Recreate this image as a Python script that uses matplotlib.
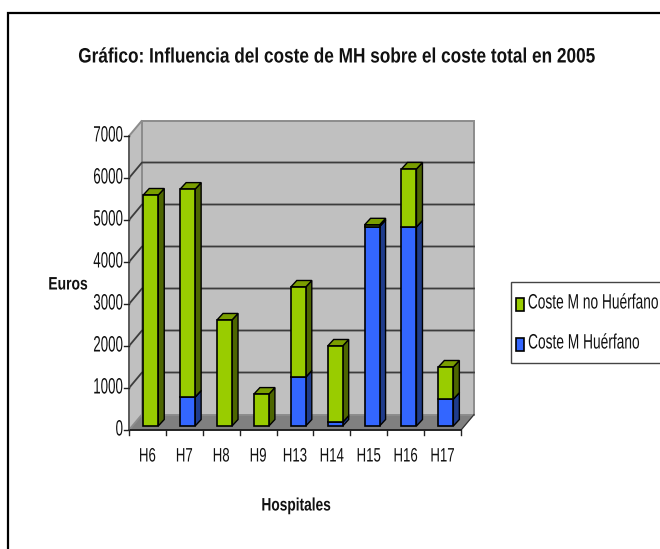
import matplotlib
matplotlib.use("Agg")
import matplotlib.pyplot as plt
import matplotlib.patheffects as pe
from matplotlib.patches import Polygon, Rectangle
from matplotlib.text import Text
from matplotlib.transforms import Affine2D, Bbox

categories = ["H6", "H7", "H8", "H9", "H13", "H14", "H15", "H16", "H17"]
coste_huerfano = [0, 690, 0, 0, 1165, 90, 4750, 4740, 640]
coste_no_huerfano = [5500, 4950, 2525, 760, 2145, 1815, 40, 1380, 765]
y_ticks = [0, 1000, 2000, 3000, 4000, 5000, 6000, 7000]

W, H = 660, 549
FONT = "Liberation Sans"
GREEN, GREEN_TOP, GREEN_SIDE = "#99CC00", "#7A9E00", "#4D6600"
BLUE, BLUE_TOP, BLUE_SIDE = "#3366FF", "#2A50C8", "#1F3C8C"


class Squeeze(pe.AbstractPathEffect):
    """Narrow the glyph outlines horizontally about the text's anchor."""

    def __init__(self, text, sx):
        super().__init__()
        self.text, self.sx = text, sx

    def draw_path(self, renderer, gc, tpath, affine, rgbFace=None):
        a = self.text.get_transform().transform(self.text.get_position())[0]
        t = affine + Affine2D().translate(-a, 0).scale(self.sx, 1).translate(a, 0)
        renderer.draw_path(gc, tpath, t, rgbFace)


class SqText(Text):
    def __init__(self, x, y, s, sx=1.0, **kw):
        super().__init__(x, y, s, **kw)
        self.sx = sx
        self.set_path_effects([Squeeze(self, sx)])

    def get_window_extent(self, renderer=None, dpi=None):
        b = super().get_window_extent(renderer, dpi)
        a = self.get_transform().transform(self.get_position())[0]
        return Bbox([[a + (b.x0 - a) * self.sx, b.y0], [a + (b.x1 - a) * self.sx, b.y1]])


fig = plt.figure(figsize=(W / 100, H / 100), dpi=100, facecolor="white")
x0, x1, y_bot, y_top = 129, 461, 430, 136
ax = fig.add_axes([x0 / W, 1 - y_bot / H, (x1 - x0) / W, (y_bot - y_top) / H])
n = len(categories)
ax.set_xlim(0, n)
ax.set_ylim(0, max(y_ticks))
ax.axis("off")

px_x = n / (x1 - x0)
px_y = max(y_ticks) / (y_bot - y_top)
dx, dy = 13 * px_x, 15.5 * px_y   # wall depth


def poly(pts, fc, ec="#000000", lw=1.0, z=1):
    ax.add_patch(Polygon(pts, closed=True, fc=fc, ec=ec, lw=lw, zorder=z,
                         clip_on=False, joinstyle="miter"))


# walls and floor
poly([(0, 0), (dx, dy), (n + dx, dy), (n, 0)], "#808080", ec="#808080", z=1)
poly([(dx, dy), (n + dx, dy), (n + dx, 7000 + dy), (dx, 7000 + dy)], "#C0C0C0", ec="#8C8C8C", lw=1.4, z=1)
poly([(0, 0), (dx, dy), (dx, 7000 + dy), (0, 7000)], "#C0C0C0", ec="#8C8C8C", lw=1.4, z=1)
for t in y_ticks[1:-1]:
    ax.plot([0, dx, n + dx], [t, t + dy, t + dy], color="#3C3C3C", lw=1.3, zorder=2, clip_on=False)
ax.plot([n, n + dx], [0, dy], color="#333333", lw=0.8, zorder=2, clip_on=False)

# bars
bar_w = 15 * px_x
base_off_x = 3.3 * px_x
base_y = 4 * px_y
ddx, ddy = 6 * px_x, 6.5 * px_y


def block(left, low, high, front, top, side, z):
    r = left + bar_w
    poly([(r, low), (r + ddx, low + ddy), (r + ddx, high + ddy), (r, high)], side, z=z)
    poly([(left, high), (left + ddx, high + ddy), (r + ddx, high + ddy), (r, high)], top, z=z)
    ax.add_patch(Rectangle((left, low), bar_w, high - low, fc=front, ec="#000000", lw=1.2,
                           zorder=z + 0.1, clip_on=False))


for i, (b, g) in enumerate(zip(coste_huerfano, coste_no_huerfano)):
    left = i + (1 - bar_w) / 2 + base_off_x
    low = base_y
    if b > 0:
        block(left, low, low + b, BLUE, BLUE_TOP, BLUE_SIDE, 5)
    block(left, low + b, low + b + g, GREEN, GREEN_TOP, GREEN_SIDE, 6)

# axes lines, ticks
ax.plot([0, n], [0, 0], color="#111111", lw=1.2, zorder=8, clip_on=False)
ax.plot([0, 0], [0, 7000], color="#555555", lw=1.2, zorder=8, clip_on=False)
for t in y_ticks:
    ax.plot([-5 * px_x, 0], [t, t], color="#222222", lw=1.0, zorder=8, clip_on=False)
    ax.add_artist(SqText(-6 * px_x, t, str(t), sx=0.6, ha="right", va="center", fontsize=16,
                         family=FONT, color="#111111", transform=ax.transData, clip_on=False))
for i in range(n + 1):
    ax.plot([i, i], [0, -5 * px_y], color="#222222", lw=1.0, zorder=8, clip_on=False)
for i, c in enumerate(categories):
    ax.add_artist(SqText(i + 0.5, -27 * px_y, c, sx=0.68, ha="center", va="center", fontsize=14,
                         family=FONT, color="#111111", transform=ax.transData, clip_on=False))


def ft(x, y, s, sx, **kw):
    fig.add_artist(SqText(x / W, 1 - y / H, s, sx=sx, family=FONT, color="#111111",
                          transform=fig.transFigure, **kw))


ft(338, 57, "Gráfico: Influencia del coste de MH sobre el coste total en 2005", 0.827,
   ha="center", va="center", fontsize=15, fontweight="bold")
ft(68, 285, "Euros", 0.77, ha="center", va="center", fontsize=13, fontweight="bold")
ft(296, 506, "Hospitales", 0.76, ha="center", va="center", fontsize=13, fontweight="bold")

# outer frame and legend
fig.add_artist(Rectangle((8 / W, -0.01), 660 / W, 1 - 13 / H + 0.01, transform=fig.transFigure,
                         fc="none", ec="black", lw=1.6))
fig.add_artist(Rectangle((511 / W, 1 - 363 / H), 160 / W, 81 / H, transform=fig.transFigure,
                         fc="white", ec="#444444", lw=1.0, clip_on=True))
for y, col, lab, right in [(304, GREEN, "Coste M no Huérfano", 659), (344, BLUE, "Coste M Huérfano", 640)]:
    fig.add_artist(Rectangle((516 / W, 1 - (y + 7) / H), 8 / W, 13 / H, transform=fig.transFigure,
                             fc=col, ec="black", lw=1.2))
    ft(right, y - 1, lab, 0.66, ha="right", va="center", fontsize=15)

fig.savefig("out.png", dpi=100)
